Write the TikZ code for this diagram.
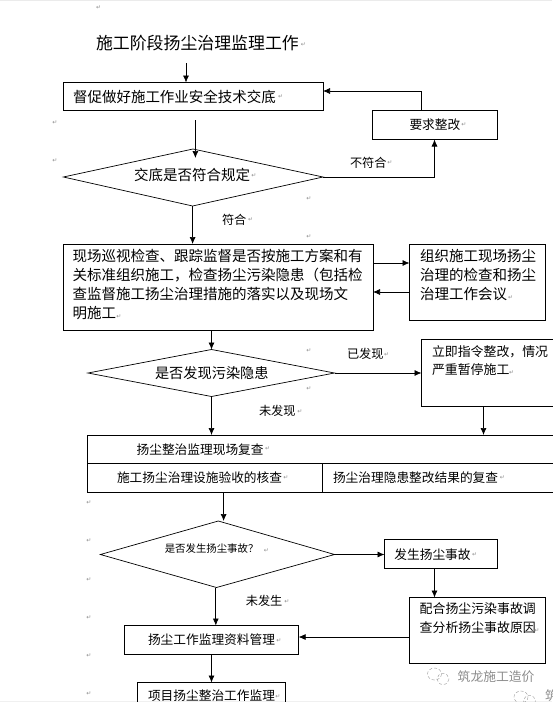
\documentclass[tikz,border=0pt]{standalone}
\usepackage{fontspec}
\setmainfont{Noto Sans CJK SC}
\newfontfamily\markfont{DejaVu Sans}
\usetikzlibrary{arrows.meta}
\tikzset{
  x=1pt,y=-1pt,
  box/.style={draw,line width=.7pt,inner sep=0pt,outer sep=0pt,anchor=north west},
  dia/.style={draw,line width=.7pt},
  flow/.style={line width=.7pt,-{Latex[length=7pt,width=6pt]}},
  line/.style={line width=.7pt},
  txt/.style={inner sep=0pt,outer sep=0pt,anchor=west,font=\fontsize{12.7}{19}\selectfont},
  big/.style={txt,font=\fontsize{14.5}{19}\selectfont},
  lab/.style={txt,font=\fontsize{12.2}{14}\selectfont},
  ret/.style={inner sep=0pt,text=black!45,font=\markfont\fontsize{6}{6}\selectfont},
  wm/.style={inner sep=0pt,anchor=west,text=black!45,font=\fontsize{12.8}{14}\selectfont},
  wmi/.style={draw=black!35,line width=.5pt,densely dashed},
}
\begin{document}
\begin{tikzpicture}
\useasboundingbox (0,0) rectangle (552,702);
\fill[black!8] (0,0) rectangle (552,1);
\fill[black!6] (0,700.5) rectangle (552,702);
% title
\node[txt,font=\fontsize{16.9}{18}\selectfont] (title) at (96,43) {施工阶段扬尘治理监理工作};
\coordinate (titlefoot) at (186,63);
% boxes
\node[box,minimum width=259.6pt,minimum height=27.5pt] (b1) at (63.4,82.5) {};
\node[box,minimum width=124.5pt,minimum height=28.5pt] (fix) at (372.5,110.5) {};
\node[box,minimum width=309.6pt,minimum height=86pt] (b2) at (63.4,244) {};
\node[box,minimum width=136.3pt,minimum height=76pt] (b3) at (409.5,244) {};
\node[box,minimum width=160pt,minimum height=67pt] (b4) at (421.5,339.5) {};
\node[box,minimum width=490pt,minimum height=57.5pt] (b5) at (87.3,435) {};
\node[box,minimum width=112.5pt,minimum height=29pt] (b6) at (384.5,539.5) {};
\node[box,minimum width=136.3pt,minimum height=66pt] (b7) at (409.5,597.5) {};
\node[box,minimum width=174.3pt,minimum height=28.5pt] (b8) at (124.3,625.5) {};
\node[box,minimum width=147.9pt,minimum height=40pt] (b9) at (137.3,682.5) {};
% diamonds
\coordinate (d1l) at (63.4,177); \coordinate (d1r) at (323,177); \coordinate (d1t) at (193,149); \coordinate (d1b) at (192.6,206);
\draw[dia] (d1l) -- (d1t) -- (d1r) -- (d1b) -- cycle;
\coordinate (d2l) at (88,373); \coordinate (d2r) at (334.5,373); \coordinate (d2t) at (211.5,349.5); \coordinate (d2b) at (211.5,396.5);
\draw[dia] (d2l) -- (d2t) -- (d2r) -- (d2b) -- cycle;
\coordinate (d3l) at (100.4,554.5); \coordinate (d3r) at (334.5,554.5); \coordinate (d3t) at (218.3,521); \coordinate (d3b) at (216.5,587.5);
\draw[dia] (d3l) -- (d3t) -- (d3r) -- (d3b) -- cycle;
% dividers in b5
\draw[line] (87.3,463.5) -- (577.3,463.5);
\draw[line] (322.5,463.5) -- (322.5,492.5);
% connectors
\draw[flow] (titlefoot) -- (186,82.5);
\coordinate (b1foot) at (195.4,120);
\draw[flow] (b1foot) -- (195.4,158);
\draw[flow] (d1b) -- (192.6,244);
\draw[flow] (d1r) -- (434.5,177) -- (434.5,139.5);
\draw[flow] (421,110.5) -- (421,91) -- (323,91);
\draw[flow] (373,263) -- (409.5,263);
\draw[flow] (409.5,292) -- (373,292);
\draw[flow] (211.5,330) -- (d2t);
\draw[flow] (d2r) -- (421.5,373);
\draw[flow] (d2b) -- (211.5,435);
\draw[flow] (483.5,406.5) -- (483.5,435);
\draw[flow] (223.6,492.5) -- (223.6,521);
\draw[flow] (d3r) -- (384.5,554.5);
\draw[flow] (434.5,568.5) -- (434.5,597.5);
\draw[flow] (409.5,637) -- (298.6,637);
\draw[flow] (215.8,587.5) -- (215.8,625.5);
\draw[flow] (211.5,654) -- (211.5,682.5);
% texts
\node[big] (t1) at (73,97) {督促做好施工作业安全技术交底};
\node[txt] (t2) at (409.5,125) {要求整改};
\node[big] (t3) at (134,175) {交底是否符合规定};
\node[lab] (l1) at (350,163) {不符合};
\node[lab] (l2) at (222,220) {符合};
\node[big,align=left,anchor=north west] (t4) at (72.7,249.5) {现场巡视检查、跟踪监督是否按施工方案和有\\关标准组织施工，检查扬尘污染隐患（包括检\\查监督施工扬尘治理措施的落实以及现场文\\明施工};
\node[big,align=left,anchor=north west] (t5) at (420,249.5) {组织施工现场扬尘\\治理的检查和扬尘\\治理工作会议};
\node[txt,font=\fontsize{14.2}{19}\selectfont] (t6) at (155,373) {是否发现污染隐患};
\node[lab] (l3) at (347,354) {已发现};
\node[lab] (l4) at (259,411) {未发现};
\node[txt,align=left,anchor=north west,font=\fontsize{12.9}{18.5}\selectfont] (t7) at (432,345.5) {立即指令整改，情况\\严重暂停施工};
\node[txt] (t8) at (136.6,450) {扬尘整治监理现场复查};
\node[txt] (t9) at (117,478) {施工扬尘治理设施验收的核查};
\node[txt] (t10) at (333,478) {扬尘治理隐患整改结果的复查};
\node[txt,font=\fontsize{10.4}{12}\selectfont] (t11) at (164.8,549) {是否发生扬尘事故？};
\node[txt] (t12) at (394.4,555) {发生扬尘事故};
\node[lab] (l5) at (245.8,601) {未发生};
\node[txt,align=left,anchor=north west,font=\fontsize{12.9}{19}\selectfont] (t13) at (419.7,602.5) {配合扬尘污染事故调\\查分析扬尘事故原因};
\node[txt] (t14) at (148,640) {扬尘工作监理资料管理};
\node[txt] (t15) at (148,696) {项目扬尘整治工作监理};
% watermark
\draw[wmi] (434.5,674) ellipse [x radius=7,y radius=6];
\draw[wmi] (443,679) ellipse [x radius=6,y radius=5.5];
\node[wm] (w1) at (457.5,677) {筑龙施工造价};
\draw[wmi] (521,697) ellipse [x radius=7,y radius=6];
\draw[wmi] (529.5,701) ellipse [x radius=6,y radius=5.5];
\node[wm] (w2) at (545,696) {筑};
% return marks
\foreach \p in {(98.6,8),(303.5,45),(280.6,97),(464,125),(55,123),(55,161),(254,176),(309,199),(390,163),(250.7,220),(309,237),(119,316.7),(510.6,298),(309,350.7),(386.6,355),(309,389),(300,411.7),(511.6,373),(267.6,449),(286,478),(502.5,478),(89,503),(89,541),(89,580),(89,618),(89,656),(89,694),(266.5,551),(474.6,555),(287,602),(537,631),(279,641),(278,697)}
  \node[ret] at \p {↵};
\end{tikzpicture}
\end{document}
